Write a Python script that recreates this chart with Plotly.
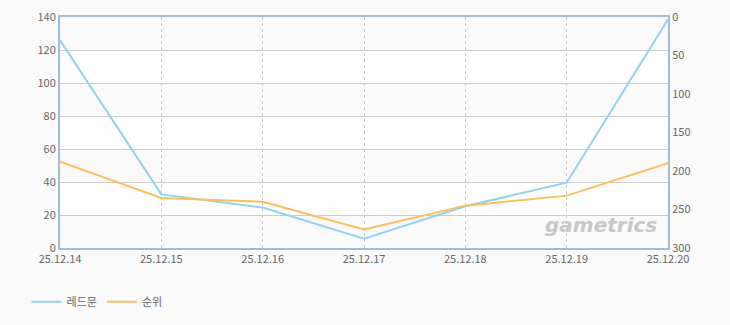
import plotly.graph_objects as go

dates = ["25.12.14", "25.12.15", "25.12.16", "25.12.17", "25.12.18", "25.12.19", "25.12.20"]
redmoon = [126, 32.5, 24.5, 5.6, 25.3, 39.6, 138.6]
rank = [188, 235, 240, 276, 245, 232, 190]
left_ticks = [0, 20, 40, 60, 80, 100, 120, 140]
right_ticks = [0, 50, 100, 150, 200, 250, 300]

FONT = "Noto Sans CJK KR, Roboto, sans-serif"
fig = go.Figure()

# alternating bands
for i in range(0, 140, 40):
    fig.add_shape(type="rect", xref="paper", yref="y", x0=0, x1=1, y0=i, y1=i + 20,
                  fillcolor="#fafafa", line_width=0, layer="below")

fig.add_trace(go.Scatter(x=dates, y=redmoon, name="레드문", mode="lines",
                         line=dict(color="#93d2f2", width=2)))
fig.add_trace(go.Scatter(x=dates, y=rank, name="순위", mode="lines", yaxis="y2",
                         line=dict(color="#fdbf5e", width=2)))

fig.add_annotation(text="<b><i>gametrics</i></b>", xref="paper", yref="paper",
                   x=0.985, y=0.04, xanchor="right", yanchor="bottom", showarrow=False,
                   font=dict(family="DejaVu Sans, sans-serif", size=20, color="#c8c8c8"))

fig.update_layout(
    width=730, height=325,
    margin=dict(l=60, r=62, t=17, b=77, autoexpand=False),
    paper_bgcolor="#fafafa", plot_bgcolor="#ffffff",
    font=dict(family=FONT, size=11, color="#666666"),
    showlegend=True,
    legend=dict(orientation="h", x=-0.055, y=-0.17, xanchor="left", yanchor="top",
                font=dict(size=11, color="#666666"), bgcolor="rgba(0,0,0,0)",
                itemwidth=30, tracegroupgap=0),
    xaxis=dict(type="category", range=[0, 6], showgrid=True, gridcolor="#c8c8c8",
               griddash="3px,3px", gridwidth=1, showline=True, linecolor="#a9bbd0",
               linewidth=2, mirror=True, ticks="", tickfont=dict(size=11, color="#666666"),
               zeroline=False, automargin=False),
    yaxis=dict(range=[0, 140], tickvals=left_ticks, showgrid=True, gridcolor="#cccccc",
               showline=True, linecolor="#a9bbd0", linewidth=2, ticks="",
               tickfont=dict(size=11, color="#666666"), zeroline=False, automargin=False),
    yaxis2=dict(range=[300, 0], tickvals=right_ticks, overlaying="y", side="right",
                showgrid=False, showline=True, linecolor="#a9bbd0", linewidth=2,
                ticks="", tickfont=dict(size=11, color="#666666"), zeroline=False,
                automargin=False),
)

fig.write_html("out.html")
